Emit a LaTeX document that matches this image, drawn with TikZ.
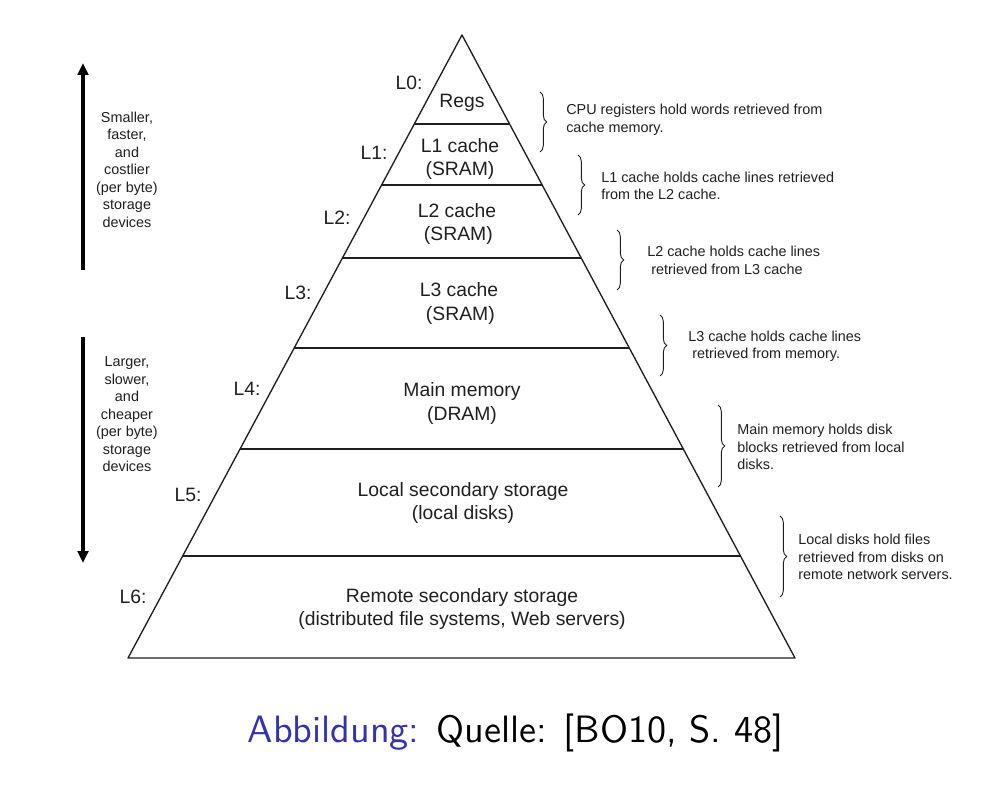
\documentclass[tikz,border=0pt]{standalone}
\usepackage{fontspec}
\setmainfont{Liberation Sans}
\newfontfamily\capfont{lmsans10-regular.otf}
\usetikzlibrary{calc,arrows.meta,decorations.pathreplacing}
\definecolor{structure}{rgb}{0.2,0.2,0.7}
\definecolor{ink}{gray}{0.12}
\tikzset{
  edge/.style={draw=ink,line width=1.0pt,line join=round},
  lvl/.style={inner sep=0pt,text=ink,font=\fontsize{14.5}{17.3}\selectfont,align=center},
  lab/.style={inner sep=0pt,text=ink,font=\fontsize{14.5}{17.3}\selectfont},
  note/.style={inner sep=0pt,text=ink,font=\fontsize{10.8}{13.1}\selectfont,align=left,anchor=west},
  side/.style={inner sep=0pt,text=ink,font=\fontsize{10.8}{13.1}\selectfont,align=center},
  cbrace/.style={draw=ink,line width=0.7pt,decorate,decoration={brace,amplitude=5pt}},
  bigarrow/.style={draw=black,line width=2.4pt,-{Triangle[length=9pt,width=8pt]}}
}
\begin{document}
\begin{tikzpicture}[x=0.75pt,y=-0.75pt]
\useasboundingbox (0,0) rectangle (1006,787);
% pyramid
\coordinate (apex) at (462,35);
\coordinate (bl) at (128,658);
\coordinate (br) at (795,658);
\draw[edge] (apex) -- (bl) -- (br) -- cycle;
\foreach \t/\n in {0.1429/a,0.2408/b,0.3579/c,0.5024/d,0.6645/e,0.8363/f}{
  \coordinate (l\n) at ($(apex)!\t!(bl)$);
  \coordinate (r\n) at ($(apex)!\t!(br)$);
  \draw[edge] (l\n) -- (r\n);
}
% level texts
\node[lvl] (t0) at (462,103) {Regs};
\node[lvl] (t1) at (460,159) {L1 cache\\(SRAM)};
\node[lvl] (t2) at (457,224) {L2 cache\\\hspace*{2pt}(SRAM)};
\node[lvl] (t3) at (459,303.5) {L3 cache\\\hspace*{2pt}(SRAM)};
\node[lvl] (t4) at (462,403.5) {Main memory\\(DRAM)};
\node[lvl] (t5) at (463,503) {Local secondary storage\\(local disks)};
\node[lvl] (t6) at (462,609) {Remote secondary storage\\(distributed file systems, Web servers)};
% level labels
\node[lab] (L0) at (409,83) {L0:};
\node[lab] (L1) at (374,153) {L1:};
\node[lab] (L2) at (337,218) {L2:};
\node[lab] (L3) at (298,293) {L3:};
\node[lab] (L4) at (247,389) {L4:};
\node[lab] (L5) at (188,495) {L5:};
\node[lab] (L6) at (133,597) {L6:};
% braces
\draw[cbrace] (540,92) -- (540,152);
\draw[cbrace] (578,155) -- (578,215);
\draw[cbrace] (617,230) -- (617,290);
\draw[cbrace] (660,315) -- (660,376);
\draw[cbrace] (718,405) -- (718,487);
\draw[cbrace] (780,516) -- (780,597);
% notes
\node[note] (n0) at (566,120) {CPU registers hold words retrieved from\\cache memory.};
\node[note] (n1) at (601,186) {L1 cache holds cache lines retrieved\\from the L2 cache.};
\node[note] (n2) at (647,260.5) {L2 cache holds cache lines\\\hspace*{3pt}retrieved from L3 cache};
\node[note] (n3) at (688,346.5) {L3 cache holds cache lines\\\hspace*{3pt}retrieved from memory.};
\node[note] (n4) at (737,447) {Main memory holds disk\\blocks retrieved from local\\disks.};
\node[note] (n5) at (798,557) {Local disks hold files\\retrieved from disks on\\remote network servers.};
% side texts
\node[side] (s1) at (127,169.5) {Smaller,\\faster,\\and\\costlier\\(per byte)\\storage\\devices};
\node[side] (s2) at (127,414.5) {Larger,\\slower,\\and\\cheaper\\(per byte)\\storage\\devices};
% arrows
\coordinate (a1s) at (83,270);
\coordinate (a1e) at (83,63);
\coordinate (a2s) at (83,337);
\coordinate (a2e) at (83,563);
\draw[bigarrow] (a1s) -- (a1e);
\draw[bigarrow] (a2s) -- (a2e);
% caption
\node[inner sep=0pt,anchor=base,font=\capfont\fontsize{28.6}{34}\selectfont] (cap) at (515.5,742) {\textcolor{structure}{Abbildung:} Quelle: [BO10, S. 48]};
\end{tikzpicture}
\end{document}
